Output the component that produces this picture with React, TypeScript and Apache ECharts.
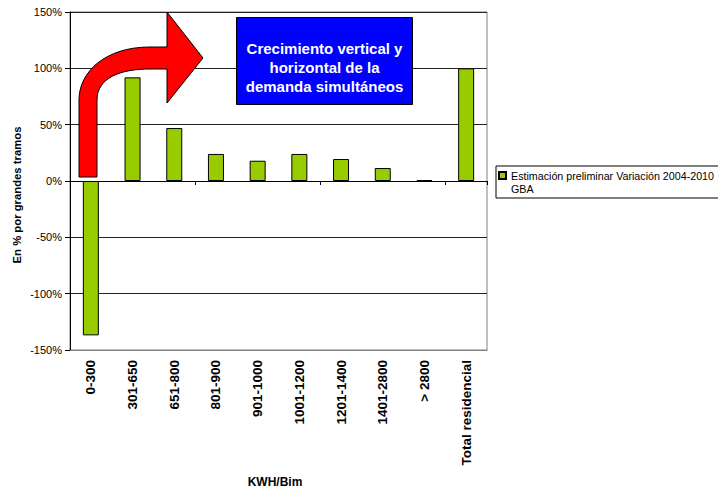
import React, { useEffect, useRef } from "react";
import * as echarts from "echarts";

const categories = [
  "0-300",
  "301-650",
  "651-800",
  "801-900",
  "901-1000",
  "1001-1200",
  "1201-1400",
  "1401-2800",
  "> 2800",
  "Total residencial",
];
const values = [-137, 92, 47, 24, 18, 24, 19.5, 11.5, 0.8, 100];
const seriesName = "Estimación preliminar Variación 2004-2010 GBA";
const legendLabel = "Estimación preliminar Variación 2004-2010\nGBA";
const yTitle = "En % por grandes tramos";
const xTitle = "KWH/Bim";
const boxText = "Crecimiento vertical y\nhorizontal de la\ndemanda simultáneos";

const FONT = '"Liberation Sans", Arial, sans-serif';

const arrowPath =
  "M79,177 L79,100 C79,72 105,47 150,47 L167,47 L167,12 L203,58 L167,103 L167,69 L150,69 C120,69 97,78 97,100 L97,177 Z";

let registered = false;
function registerArrow() {
  if (registered) return;
  echarts.graphic.registerShape(
    "redArrow",
    echarts.graphic.extendPath(arrowPath, {}) as any
  );
  registered = true;
}

export default function App() {
  const ref = useRef<HTMLDivElement>(null);
  useEffect(() => {
    if (!ref.current) return;
    registerArrow();
    const chart = echarts.init(ref.current, undefined, { renderer: "svg" });
    chart.setOption({
      animation: false,
      textStyle: { fontFamily: FONT },
      grid: {
        left: 70,
        right: 231,
        top: 12,
        bottom: 139,
        show: true,
        borderColor: "#808080",
        borderWidth: 1,
        outerBoundsMode: "none",
        containLabel: false,
      },
      legend: {
        left: 496,
        top: 166,
        orient: "vertical",
        padding: [3, 60, 3, 2],
        itemWidth: 7,
        itemHeight: 20,
        icon: "path://M0,0H7V7H0Z M0,20",
        borderColor: "#000",
        borderWidth: 1,
        backgroundColor: "#fff",
        textStyle: { fontSize: 10.7, color: "#000", lineHeight: 13, fontFamily: FONT },
        formatter: () => legendLabel,
      },
      xAxis: [
        {
          type: "category",
          data: categories,
          position: "top",
          axisLine: { show: true, onZero: true, lineStyle: { color: "#000", width: 1 } },
          axisTick: { show: true, inside: true, length: 4, lineStyle: { color: "#000" } },
          axisLabel: { show: false },
          splitLine: { show: false },
        },
        {
          type: "category",
          data: categories,
          position: "bottom",
          axisLine: { show: true, onZero: false, lineStyle: { color: "#808080" } },
          axisTick: { show: false },
          axisLabel: {
            rotate: 90,
            interval: 0,
            fontSize: 13.5,
            fontWeight: "bold",
            color: "#000",
            margin: 10,
            fontFamily: FONT,
          },
          name: xTitle,
          nameLocation: "middle",
          nameGap: 126,
          nameTextStyle: {
            fontSize: 12,
            fontWeight: "bold",
            color: "#000",
            fontFamily: FONT,
            padding: [0, 7, 0, 0],
          },
        },
      ],
      yAxis: {
        type: "value",
        min: -150,
        max: 150,
        interval: 50,
        axisLine: { show: true, lineStyle: { color: "#000" } },
        axisTick: { show: true, length: 5, lineStyle: { color: "#000" } },
        axisLabel: { formatter: "{value}%", fontSize: 11, color: "#000", margin: 8, fontFamily: FONT },
        splitLine: { show: true, lineStyle: { color: "#222" } },
      },
      series: [
        {
          type: "bar",
          name: seriesName,
          xAxisIndex: 0,
          data: values,
          barWidth: 16,
          itemStyle: { color: "#99CC00", borderColor: "#000", borderWidth: 1 },
        },
      ],
      graphic: [
        {
          type: "redArrow",
          z: 100,
          style: { fill: "#FF0000", stroke: "#000", lineWidth: 1 },
        },
        {
          type: "rect",
          z: 100,
          shape: { x: 236.5, y: 17.5, width: 176, height: 87 },
          style: { fill: "#0000FF", stroke: "#000", lineWidth: 1 },
        },
        {
          type: "text",
          z: 101,
          x: 324.5,
          y: 67,
          style: {
            text: boxText,
            fill: "#fff",
            fontSize: 15,
            fontWeight: "bold",
            fontFamily: FONT,
            align: "center",
            verticalAlign: "middle",
            lineHeight: 19,
          },
        },
        {
          type: "text",
          z: 100,
          x: 17,
          y: 195,
          rotation: Math.PI / 2,
          style: {
            text: yTitle,
            fill: "#000",
            fontSize: 11.3,
            fontWeight: "bold",
            fontFamily: FONT,
            align: "center",
            verticalAlign: "middle",
          },
        },
      ],
    });
    return () => chart.dispose();
  }, []);
  return (
    <div
      ref={ref}
      style={{ position: "fixed", left: 0, top: 0, width: 718, height: 489, background: "#fff" }}
    />
  );
}
